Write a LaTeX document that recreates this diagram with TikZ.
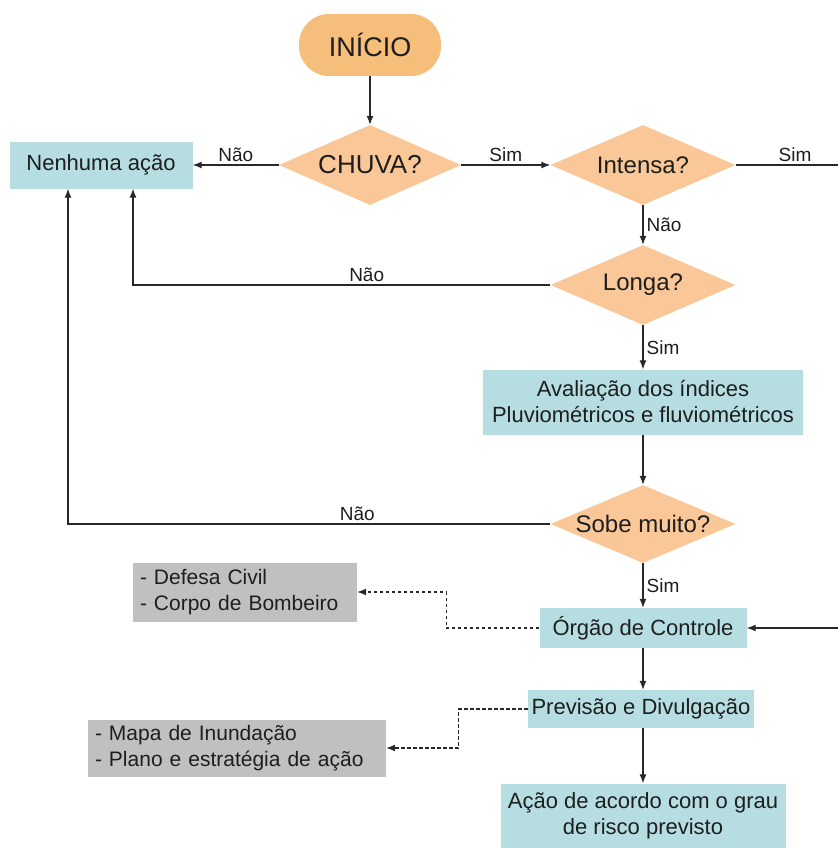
\documentclass[tikz,border=0pt]{standalone}
\usepackage{fontspec}
\setmainfont{Liberation Sans}
\usetikzlibrary{shapes.geometric,arrows.meta}
\definecolor{startfill}{RGB}{245,190,122}
\definecolor{decfill}{RGB}{250,200,152}
\definecolor{procfill}{RGB}{182,222,226}
\definecolor{notefill}{RGB}{192,192,192}
\definecolor{ink}{RGB}{30,30,30}
\definecolor{linec}{RGB}{40,40,40}
\begin{document}
\begin{tikzpicture}[x=1pt,y=-1pt,
  every node/.style={text=ink},
  startbox/.style={rectangle, rounded corners=30pt, fill=startfill, inner sep=0pt,
    minimum width=142pt, minimum height=62pt, font=\fontsize{27}{30}\selectfont},
  decbox/.style={diamond, fill=decfill, aspect=2.3, inner sep=0pt,
    minimum width=185pt, minimum height=80pt, font=\fontsize{24}{28}\selectfont},
  procbox/.style={rectangle, fill=procfill, inner sep=0pt, align=center,
    font=\fontsize{22}{26}\selectfont},
  notebox/.style={rectangle, fill=notefill, inner ysep=0pt, inner xsep=7pt, align=left,
    font=\fontsize{21}{26}\selectfont},
  flow/.style={draw=linec, line width=1.2pt, -{Latex[length=9pt,width=7pt]}},
  plainline/.style={draw=linec, line width=1.2pt},
  link/.style={draw=linec, line width=1.1pt, dash pattern=on 3.5pt off 2.5pt,
    -{Latex[length=9pt,width=7pt]}},
  lbl/.style={font=\fontsize{19}{22}\selectfont, inner sep=3pt}
]
\useasboundingbox (0,0) rectangle (838,848);

\node[startbox] (inicio) at (370,45) {INÍCIO};
\node[decbox, minimum width=182pt, font=\fontsize{26}{30}\selectfont] (chuva) at (370,165) {CHUVA?};
\node[procbox, minimum width=183pt, minimum height=47pt] (nenhuma) at (101,165) {Nenhuma ação};
\node[decbox] (intensa) at (643,165) {Intensa?};
\node[decbox] (longa) at (643,285) {Longa?};
\node[procbox, minimum width=320pt, minimum height=65pt] (avaliacao) at (643,402)
  {Avaliação dos índices\\Pluviométricos e fluviométricos};
\node[decbox, minimum height=78pt] (sobe) at (643,524) {Sobe muito?};
\node[procbox, minimum width=207pt, minimum height=40pt] (orgao) at (643,628) {Órgão de Controle};
\node[notebox, text width=210pt, minimum height=59pt] (defesa) at (245,592)
  {- Defesa Civil\\- Corpo de Bombeiro};
\node[procbox, minimum width=226pt, minimum height=38pt] (previsao) at (641,709) {Previsão e Divulgação};
\node[notebox, text width=284pt, minimum height=57pt] (mapa) at (237,748)
  {- Mapa de Inundação\\- Plano e estratégia de ação};
\node[procbox, minimum width=285pt, minimum height=65pt] (acao) at (643,816)
  {Ação de acordo com o grau\\de risco previsto};

\coordinate (redgetop) at (838,165);
\coordinate (redgebot) at (838,628);

\draw[flow] (inicio) -- (chuva);
\draw[flow] (chuva.west) -- node[lbl, above] {Não} (nenhuma.east);
\draw[flow] (chuva.east) -- node[lbl, above] {Sim} (intensa.west);
\draw[plainline] (intensa.east) -- node[lbl, above, pos=0.58] {Sim} (redgetop);
\draw[flow] (intensa) -- node[lbl, right] {Não} (longa);
\draw[flow] (longa.west) -| node[lbl, above, pos=0.22] {Não} ([xshift=32pt]nenhuma.south);
\draw[flow] (longa) -- node[lbl, right] {Sim} (avaliacao);
\draw[flow] (avaliacao) -- (sobe);
\draw[flow] (sobe.west) -| node[lbl, above, pos=0.2] {Não} ([xshift=-33pt]nenhuma.south);
\draw[flow] (sobe) -- node[lbl, right] {Sim} (orgao);
\draw[flow] (redgebot) -- (orgao.east);
\draw[link] (orgao.west) -- ++(-93,0) |- (defesa.east);
\draw[flow] (orgao.south) -- (orgao.south |- previsao.north);
\draw[link] (previsao.west) -- ++(-69,0) |- (mapa.east);
\draw[flow] (orgao.south |- previsao.south) -- (acao.north);
\end{tikzpicture}
\end{document}
